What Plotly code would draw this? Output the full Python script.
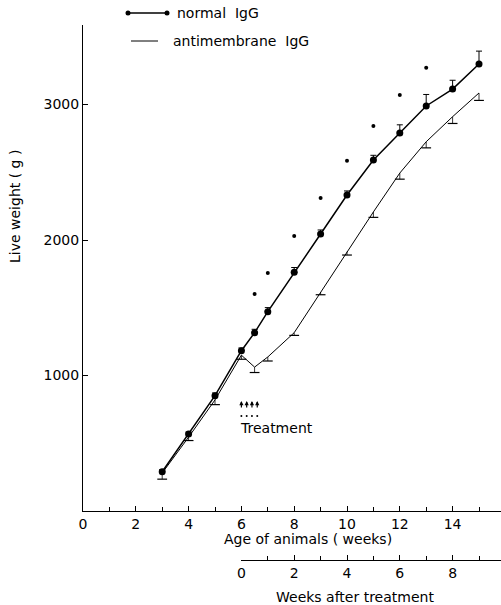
import plotly.graph_objects as go

# ---- data ----
age = [3, 4, 5, 6, 6.5, 7, 8, 9, 10, 11, 12, 13, 14, 15]
normal_igg = [290, 568, 851, 1183, 1316, 1471, 1762, 2044, 2332, 2590, 2790, 2989, 3114, 3299]
normal_err_up = [15, 15, 20, 20, 25, 30, 35, 30, 30, 35, 60, 85, 65, 95]
anti_igg = [280, 545, 820, 1150, 1062, 1137, 1316, 1616, 1914, 2207, 2494, 2725, 2910, 3085]
anti_err_down = [45, 25, 35, 30, 40, 30, 20, 20, 25, 40, 45, 45, 50, 55]
sig_age = [6.5, 7, 8, 9, 10, 11, 12, 13]
sig_val = [1601, 1756, 2030, 2310, 2585, 2841, 3070, 3271]
treat_age = [6.0, 6.2, 6.4, 6.6]
age_ticks = [0, 2, 4, 6, 8, 10, 12, 14]
after_ticks = [0, 2, 4, 6, 8]
weight_ticks = [1000, 2000, 3000]

FONT = "DejaVu Sans"
W, H = 501, 605
ML, MR, MT, MB = 83, 0, 25, 0
PW = W - ML - MR
PH = H - MT - MB

def px_x(p):
    return (p - ML) / PW

def px_y(p):
    return (H - MB - p) / PH

fig = go.Figure()

# antimembrane IgG: thin line, lower error bars (bar without caps + dash at lower end)
fig.add_trace(go.Scatter(
    x=age, y=anti_igg, mode="lines",
    line=dict(color="black", width=1),
    error_y=dict(type="data", symmetric=False, array=[0] * len(anti_err_down),
                 arrayminus=anti_err_down, color="black", thickness=0.8, width=0),
    showlegend=False, hoverinfo="skip"))
fig.add_trace(go.Scatter(
    x=age, y=[v - e for v, e in zip(anti_igg, anti_err_down)], mode="markers",
    marker=dict(symbol="line-ew", size=7, color="black",
                line=dict(color="black", width=1.2)),
    showlegend=False, hoverinfo="skip"))

# normal IgG: thick line with dots, upper error bars
fig.add_trace(go.Scatter(
    x=age, y=normal_igg, mode="lines+markers",
    line=dict(color="black", width=1.5),
    marker=dict(color="black", size=7),
    error_y=dict(type="data", symmetric=False, array=normal_err_up,
                 arrayminus=[0] * len(normal_err_up), color="black", thickness=1, width=3),
    showlegend=False, hoverinfo="skip"))

fig.add_trace(go.Scatter(
    x=sig_age, y=sig_val, mode="markers",
    marker=dict(color="black", size=4),
    showlegend=False, hoverinfo="skip"))

# treatment dots under the arrows
y_zero = 511
scale = 0.1355
fig.add_trace(go.Scatter(
    x=treat_age, y=[(y_zero - 416) / scale] * len(treat_age), mode="markers",
    marker=dict(color="black", size=2),
    showlegend=False, hoverinfo="skip"))

# dummy trace for the second axis
fig.add_trace(go.Scatter(x=[None], y=[None], xaxis="x2", yaxis="y",
                         showlegend=False, hoverinfo="skip"))

annotations = []
for t in treat_age:
    annotations.append(dict(x=t, y=(y_zero - 401) / scale, xref="x", yref="y",
                            text="", showarrow=True, ax=0, ay=8,
                            arrowhead=2, arrowsize=0.7, arrowwidth=1.2,
                            arrowcolor="black"))
annotations.append(dict(x=6.0, y=(y_zero - 428) / scale, xref="x", yref="y",
                        text="Treatment", showarrow=False, xanchor="left",
                        yanchor="middle", xshift=-3,
                        font=dict(family=FONT, size=14, color="black")))

annotations += [
    dict(x=px_x(308), y=px_y(539), xref="paper", yref="paper",
         xanchor="center", yanchor="middle",
         text="Age of animals ( weeks)", showarrow=False,
         font=dict(family=FONT, size=14, color="black")),
    dict(x=px_x(355), y=px_y(597), xref="paper", yref="paper",
         xanchor="center", yanchor="middle",
         text="Weeks after treatment", showarrow=False,
         font=dict(family=FONT, size=14, color="black")),
    dict(x=px_x(15), y=px_y(207), xref="paper", yref="paper",
         xanchor="center", yanchor="middle",
         text="Live weight ( g )", showarrow=False, textangle=-90,
         font=dict(family=FONT, size=14, color="black")),
    dict(x=px_x(175), y=px_y(13), xref="paper", yref="paper",
         xanchor="left", yanchor="middle",
         text="normal  IgG", showarrow=False,
         font=dict(family=FONT, size=14, color="black")),
    dict(x=px_x(171), y=px_y(41), xref="paper", yref="paper",
         xanchor="left", yanchor="middle",
         text="antimembrane  IgG", showarrow=False,
         font=dict(family=FONT, size=14, color="black")),
]

shapes = [
    dict(type="line", xref="paper", yref="paper", x0=px_x(128), x1=px_x(167),
         y0=px_y(13), y1=px_y(13), line=dict(color="black", width=1.6)),
    dict(type="line", xref="paper", yref="paper", x0=px_x(131), x1=px_x(158),
         y0=px_y(41), y1=px_y(41), line=dict(color="black", width=1)),
]
for cx in (128, 167):
    shapes.append(dict(type="circle", xref="paper", yref="paper",
                       xsizemode="pixel", ysizemode="pixel",
                       xanchor=px_x(cx), yanchor=px_y(13),
                       x0=-2.5, x1=2.5, y0=-2.5, y1=2.5,
                       fillcolor="black", line=dict(color="black", width=0)))

x_range_max = PW / 26.4
dom_bottom = px_y(511)

fig.update_layout(
    width=W, height=H,
    margin=dict(l=ML, r=MR, t=MT, b=MB),
    paper_bgcolor="white", plot_bgcolor="rgba(0,0,0,0)",
    font=dict(family=FONT, size=14, color="black"),
    xaxis=dict(domain=[0, 1], range=[0, x_range_max], tickvals=age_ticks,
               ticks="inside", ticklen=5, tickcolor="black", tickwidth=1,
               minor=dict(dtick=1, tick0=0, ticks="inside", ticklen=4, tickcolor="black", showgrid=False),
               showline=True, linecolor="black", linewidth=1, showgrid=False,
               zeroline=False, tickfont=dict(family=FONT, size=14), anchor="y"),
    yaxis=dict(domain=[dom_bottom, 1], range=[0, (y_zero - 25) / scale],
               tickvals=weight_ticks, ticks="inside", ticklen=5, tickcolor="black",
               showline=True, linecolor="black", linewidth=1, showgrid=False,
               zeroline=False, tickfont=dict(family=FONT, size=14), anchor="x"),
    xaxis2=dict(domain=[px_x(83 + 6 * 26.4), 1], range=[0, x_range_max - 6],
                tickvals=after_ticks, anchor="free", position=px_y(560),
                ticks="inside", ticklen=5, tickcolor="black",
                minor=dict(dtick=1, tick0=0, ticks="inside", ticklen=4, tickcolor="black", showgrid=False),
                showline=True, linecolor="black", linewidth=1, showgrid=False,
                zeroline=False, tickfont=dict(family=FONT, size=14)),
    annotations=annotations,
    shapes=shapes,
)

fig.write_html("out.html")
